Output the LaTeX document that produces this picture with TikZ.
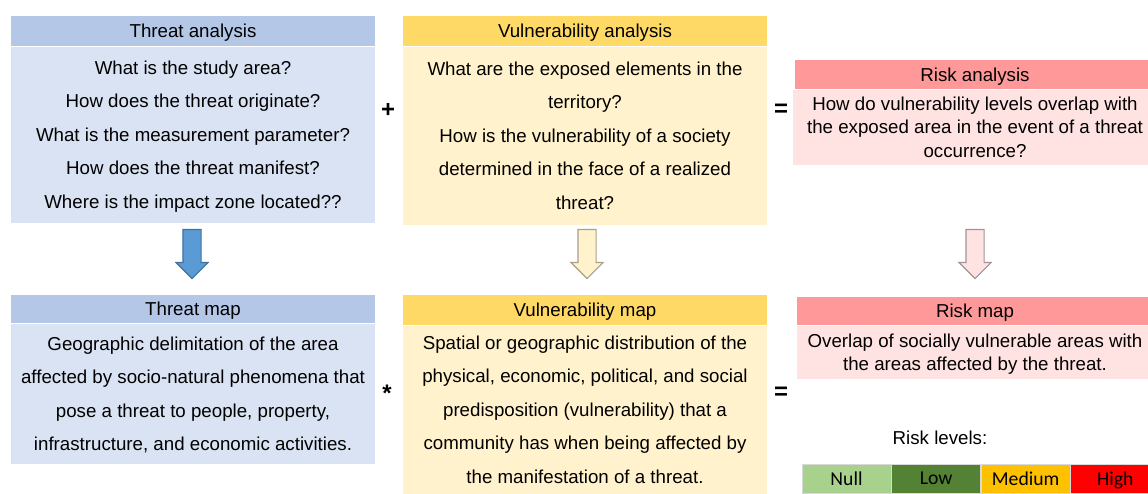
\documentclass[tikz,border=0pt]{standalone}
\usepackage{fontspec}
\setmainfont{Liberation Sans}
\newfontfamily\calibri{Carlito}
\usepackage{xcolor}
\usetikzlibrary{positioning, shapes.arrows}

\definecolor{threathead}{HTML}{B4C7E7}
\definecolor{threatbody}{HTML}{DAE3F3}
\definecolor{threatarrow}{HTML}{5B9BD5}
\definecolor{threatedge}{HTML}{41719C}
\definecolor{vulnhead}{HTML}{FFD966}
\definecolor{vulnbody}{HTML}{FFF2CC}
\definecolor{vulnedge}{HTML}{A8A08A}
\definecolor{riskhead}{HTML}{FF9999}
\definecolor{riskbody}{HTML}{FFE3E3}
\definecolor{riskedge}{HTML}{A09494}
\definecolor{nullgreen}{HTML}{A9D18E}
\definecolor{lowgreen}{HTML}{548235}
\definecolor{mediumorange}{HTML}{FFC000}
\definecolor{highred}{HTML}{FF0000}

\begin{document}
\begin{tikzpicture}[x=0.025cm, y=-0.025cm,
    head/.style={inner sep=0pt, minimum width=9.1cm, minimum height=0.75cm, text depth=0pt, font=\fontsize{13.3}{16}\selectfont},
    body/.style={inner sep=0pt, minimum width=9.1cm, align=center, text depth=0pt, font=\fontsize{13.3}{23.8}\selectfont},
    riskbox/.style={inner sep=0pt, minimum width=9.1cm, align=center, text depth=0pt, font=\fontsize{13.3}{16.7}\selectfont},
    sign/.style={inner sep=0pt, font=\fontsize{17}{17}\selectfont\bfseries},
    downarrow/.style={single arrow, shape border rotate=270, inner sep=0.2125cm, minimum height=1.225cm, single arrow head extend=0.175cm, line width=0.8pt},
    level/.style={inner sep=0pt, minimum width=2.225cm, minimum height=0.725cm, draw=white!85!black, line width=0.4pt, text depth=0pt, font=\calibri\fontsize{14}{14}\selectfont}]

  \useasboundingbox (0,0) rectangle (1148,493);
  \clip (0,0) rectangle (1148,493);

  % Analysis row
  \node[head, fill=threathead] (tahead) at (193,31) {Threat analysis};
  \node[body, fill=threatbody, minimum height=4.4cm, below=0pt of tahead] (tabody)
    {What is the study area?\\How does the threat originate?\\What is the measurement parameter?\\How does the threat manifest?\\Where is the impact zone located??};

  \node[head, fill=vulnhead] (vahead) at (585,31) {Vulnerability analysis};
  \node[body, fill=vulnbody, minimum height=4.45cm, below=0pt of vahead] (vabody)
    {What are the exposed elements in the\\territory?\\How is the vulnerability of a society\\determined in the face of a realized\\threat?};

  \node[head, fill=riskhead, minimum width=9cm, minimum height=0.725cm] (rahead) at (975,74.5) {Risk analysis};
  \node[riskbox, fill=riskbody, minimum height=1.875cm, below=0pt of rahead] (rabody)
    {How do vulnerability levels overlap with\\the exposed area in the event of a threat\\occurrence?};

  \node[sign] (plus) at (388,110) {+};
  \node[sign] (equal) at (781,110) {=};

  % Arrows down
  \node[downarrow, fill=threatarrow, draw=threatedge] (tarrow) at (192,249.5) {};
  \node[downarrow, fill=vulnbody, draw=vulnedge] (varrow) at (587,249.5) {};
  \node[downarrow, fill=riskbody, draw=riskedge] (rarrow) at (975,249.5) {};

  % Map row
  \node[head, fill=threathead, minimum height=0.7cm] (tmhead) at (193,309) {Threat map};
  \node[body, fill=threatbody, minimum height=3.5cm, below=0pt of tmhead] (tmbody)
    {Geographic delimitation of the area\\affected by socio-natural phenomena that\\pose a threat to people, property,\\infrastructure, and economic activities.};

  \node[head, fill=vulnhead] (vmhead) at (585,310) {Vulnerability map};
  \node[body, fill=vulnbody, minimum height=4.2cm, below=0pt of vmhead] (vmbody)
    {Spatial or geographic distribution of the\\physical, economic, political, and social\\predisposition (vulnerability) that a\\community has when being affected by\\the manifestation of a threat.};

  \node[head, fill=riskhead, minimum width=8.9cm, minimum height=0.7cm] (rmhead) at (975,311) {Risk map};
  \node[riskbox, fill=riskbody, minimum width=8.9cm, minimum height=1.325cm, below=0pt of rmhead] (rmbody)
    {Overlap of socially vulnerable areas with\\the areas affected by the threat.};

  \node[sign] (times) at (387,393) {*};
  \node[sign] (equal2) at (781,393) {=};

  % Risk levels
  \node[font=\fontsize{13.3}{16}\selectfont] (levels) at (940,438) {Risk levels:};
  \node[level, fill=nullgreen] (null) at (846.5,478.5) {Null};
  \node[level, fill=lowgreen, right=0pt of null] (low) {Low};
  \node[level, fill=mediumorange, right=0pt of low] (medium) {Medium};
  \node[level, fill=highred, right=0pt of medium] (high) {High};
\end{tikzpicture}
\end{document}
